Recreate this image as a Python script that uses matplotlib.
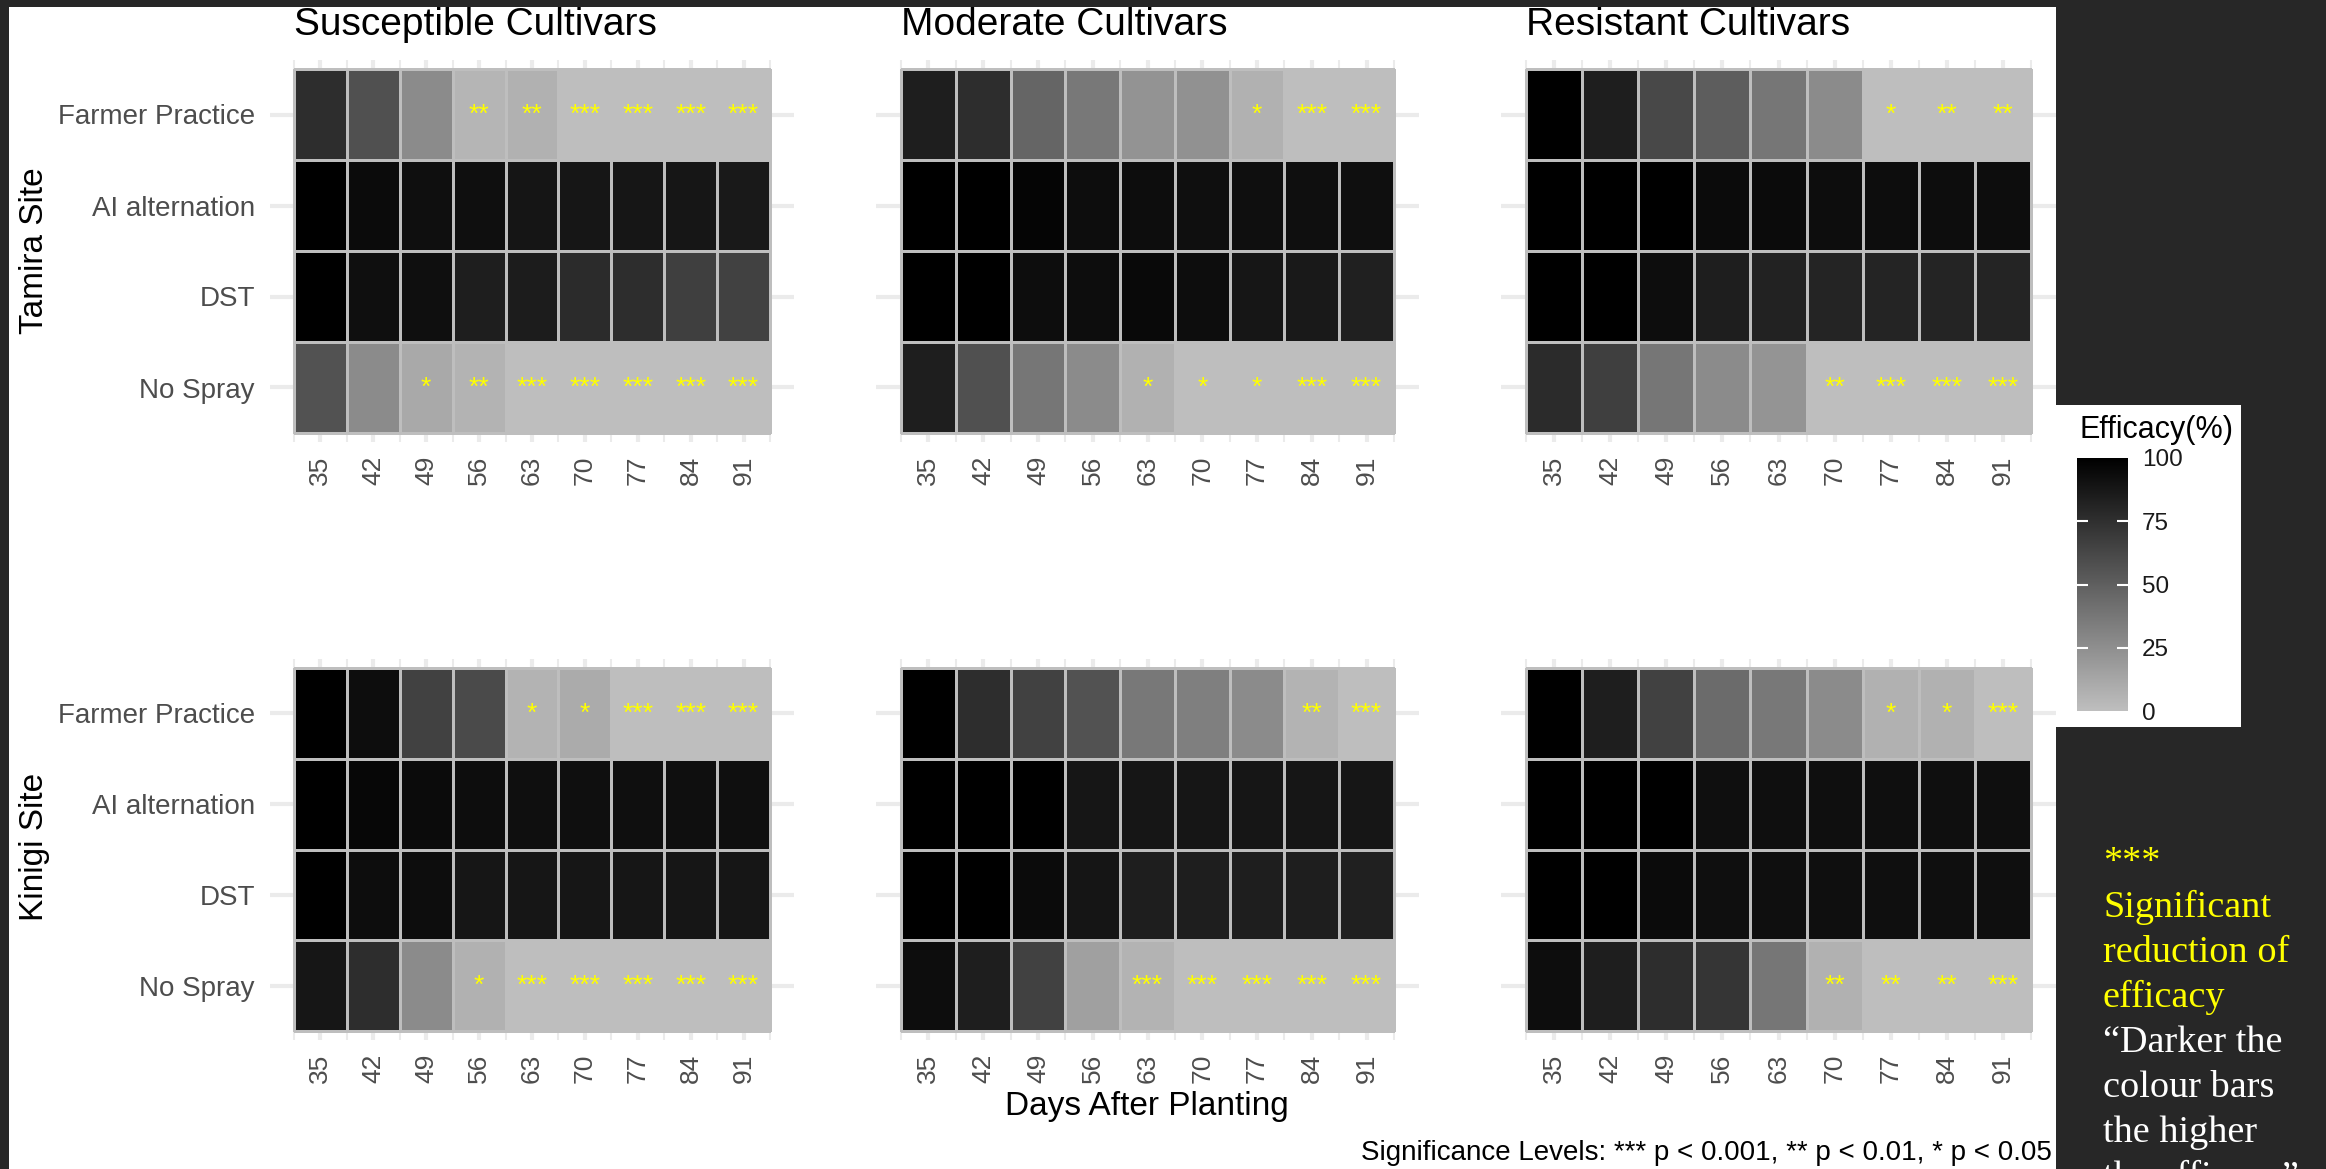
import matplotlib.pyplot as plt
import numpy as np
from matplotlib.colors import LinearSegmentedColormap
from matplotlib.patches import Rectangle

plt.rcParams['font.family'] = ['Liberation Sans', 'DejaVu Sans']

days = [35, 42, 49, 56, 63, 70, 77, 84, 91]
treatments = ["Farmer Practice", "AI alternation", "DST", "No Spray"]
cultivars = ["Susceptible Cultivars", "Moderate Cultivars", "Resistant Cultivars"]
sites = ["Tamira Site", "Kinigi Site"]

sus_tamira = [[76, 58, 27, 5, 7, 0, 0, 0, 0],
              [100, 94, 92, 92, 89, 88, 88, 88, 87],
              [100, 92, 92, 84, 85, 77, 76, 67, 66],
              [57, 27, 11, 6, 0, 0, 0, 0, 0]]
mod_tamira = [[84, 76, 47, 37, 23, 24, 7, 0, 0],
              [100, 100, 97, 93, 93, 92, 92, 92, 92],
              [100, 100, 93, 93, 95, 93, 88, 87, 83],
              [84, 58, 38, 27, 7, 0, 0, 0, 0]]
res_tamira = [[100, 84, 62, 51, 38, 27, 0, 0, 0],
              [100, 100, 100, 94, 94, 93, 93, 93, 93],
              [100, 100, 93, 84, 82, 81, 81, 81, 81],
              [77, 67, 38, 27, 22, 0, 0, 0, 0]]
sus_kinigi = [[100, 93, 66, 61, 6, 10, 0, 0, 0],
              [100, 96, 94, 93, 92, 92, 92, 92, 92],
              [100, 93, 93, 88, 88, 88, 88, 88, 88],
              [88, 76, 27, 7, 0, 0, 0, 0, 0]]
mod_kinigi = [[100, 76, 66, 57, 37, 33, 27, 6, 0],
              [100, 100, 100, 88, 88, 88, 88, 88, 88],
              [100, 100, 94, 89, 84, 84, 84, 84, 83],
              [93, 84, 66, 16, 6, 0, 0, 0, 0]]
res_kinigi = [[100, 84, 66, 44, 37, 27, 7, 7, 0],
              [100, 100, 100, 92, 92, 92, 92, 92, 92],
              [100, 100, 94, 92, 92, 92, 92, 92, 92],
              [93, 84, 76, 72, 38, 7, 0, 0, 0]]

# significance stars (only Farmer Practice and No Spray rows carry any)
blank = [''] * 9
sig_sus_tamira = [['', '', '', '**', '**', '***', '***', '***', '***'], blank, blank,
                  ['', '', '*', '**', '***', '***', '***', '***', '***']]
sig_mod_tamira = [['', '', '', '', '', '', '*', '***', '***'], blank, blank,
                  ['', '', '', '', '*', '*', '*', '***', '***']]
sig_res_tamira = [['', '', '', '', '', '', '*', '**', '**'], blank, blank,
                  ['', '', '', '', '', '**', '***', '***', '***']]
sig_sus_kinigi = [['', '', '', '', '*', '*', '***', '***', '***'], blank, blank,
                  ['', '', '', '*', '***', '***', '***', '***', '***']]
sig_mod_kinigi = [['', '', '', '', '', '', '', '**', '***'], blank, blank,
                  ['', '', '', '', '***', '***', '***', '***', '***']]
sig_res_kinigi = [['', '', '', '', '', '', '*', '*', '***'], blank, blank,
                  ['', '', '', '', '', '**', '**', '**', '***']]

panels = [[sus_tamira, mod_tamira, res_tamira], [sus_kinigi, mod_kinigi, res_kinigi]]
stars = [[sig_sus_tamira, sig_mod_tamira, sig_res_tamira],
         [sig_sus_kinigi, sig_mod_kinigi, sig_res_kinigi]]

note_yellow = ["***", "Significant", "reduction of", "efficacy"]
note_white = ["\u201cDarker the", "colour bars", "the higher", "the efficacy\u201d"]

W, H = 2326, 1169
fig = plt.figure(figsize=(W / 100, H / 100), dpi=100)
fig.patch.set_facecolor('#272727')


def px(x, y):
    return x / W, 1 - y / H


# white slide areas (plot picture and legend picture)
fig.add_artist(Rectangle(px(9, 1169), (2056 - 9) / W, (1169 - 7) / H,
                         transform=fig.transFigure, facecolor='white', edgecolor='none', zorder=-2))
fig.add_artist(Rectangle(px(2056, 727), (2241 - 2056) / W, (727 - 405) / H,
                         transform=fig.transFigure, facecolor='white', edgecolor='none', zorder=-2))

cmap = LinearSegmentedColormap.from_list('eff', ['#BEBEBE', '#000000'])

# tile area of each panel in pixels
col_px = [(294, 770), (901, 1394), (1526, 2031)]
row_px = [(69, 433), (668, 1031)]

x_edges = np.append(np.array(days) - 3.5, days[-1] + 3.5)
y_edges = np.arange(len(treatments) + 1) - 0.5

mesh = None
for i in range(2):
    top, bottom = row_px[i]
    for j in range(3):
        left, right = col_px[j]
        tw = (right - left) / 9
        th = (bottom - top) / 4
        l, r = left - 0.45 * tw, right + 0.45 * tw
        t, b = top - 0.1 * th, bottom + 0.1 * th
        ax = fig.add_axes([l / W, 1 - b / H, (r - l) / W, (b - t) / H])
        ax.set_facecolor('none')

        data = np.array(panels[i][j])
        mesh = ax.pcolormesh(x_edges, y_edges, data, cmap=cmap, vmin=0, vmax=100,
                             edgecolors='#BEBEBE', linewidth=0.8)
        for ri in range(len(treatments)):
            for ci, d in enumerate(days):
                s = stars[i][j][ri][ci]
                if s:
                    ax.text(d, ri, s, ha='center', va='center', color='#FFFF00', fontsize=19)

        ax.set_xlim(31.5 - 0.45 * 7, 94.5 + 0.45 * 7)
        ax.set_ylim(3.6, -0.6)
        ax.set_xticks(days)
        ax.set_xticks(x_edges, minor=True)
        ax.set_yticks(range(len(treatments)))
        ax.set_axisbelow(True)
        ax.grid(which='major', color='#EBEBEB', linewidth=3)
        ax.grid(which='minor', axis='x', color='#EBEBEB', linewidth=1.5)
        for sp in ax.spines.values():
            sp.set_visible(False)
        ax.tick_params(which='both', length=0)
        ax.set_xticklabels(days, rotation=90, fontsize=19, color='#4D4D4D')
        ax.tick_params(axis='x', pad=10)
        if j == 0:
            ax.set_yticklabels(treatments, fontsize=20, color='#4D4D4D')
            ax.tick_params(axis='y', pad=11)
        else:
            ax.set_yticklabels([])
        if i == 0:
            fig.text(left / W, 1 - 35 / H, cultivars[j], fontsize=28, ha='left', va='baseline')

fig.text(*px(35, 251), sites[0], rotation=90, ha='center', va='center', fontsize=24)
fig.text(*px(35, 847), sites[1], rotation=90, ha='center', va='center', fontsize=24)
fig.text(*px(1147, 1107), "Days After Planting", ha='center', va='center', fontsize=24)
fig.text(*px(2052, 1153), "Significance Levels: *** p < 0.001, ** p < 0.01, * p < 0.05",
         ha='right', va='center', fontsize=20)

# colour bar legend
cax = fig.add_axes([2077 / W, 1 - 711 / H, 51 / W, 253 / H])
cb = fig.colorbar(mesh, cax=cax, ticks=[0, 25, 50, 75, 100])
cb.outline.set_visible(False)
cax.tick_params(length=0, labelsize=17.5, pad=10, labelcolor='#1a1a1a')
tr = cax.get_yaxis_transform()
cax.hlines([25, 50, 75], 0, 0.22, colors='white', linewidth=1.5, transform=tr)
cax.hlines([25, 50, 75], 0.78, 1, colors='white', linewidth=1.5, transform=tr)
fig.text(*px(2079, 430), "Efficacy(%)", ha='left', va='center', fontsize=22)

# side note (the last line runs off the bottom edge, as on the slide)
for k, line in enumerate(note_yellow + note_white):
    color = '#FFFF00' if k < len(note_yellow) else 'white'
    fig.text(*px(2103, 872 + 45 * k), line, ha='left', va='baseline', color=color,
             fontsize=27.5, family=['Liberation Serif', 'DejaVu Serif'])

fig.savefig('out.png', dpi=100, facecolor=fig.get_facecolor())
